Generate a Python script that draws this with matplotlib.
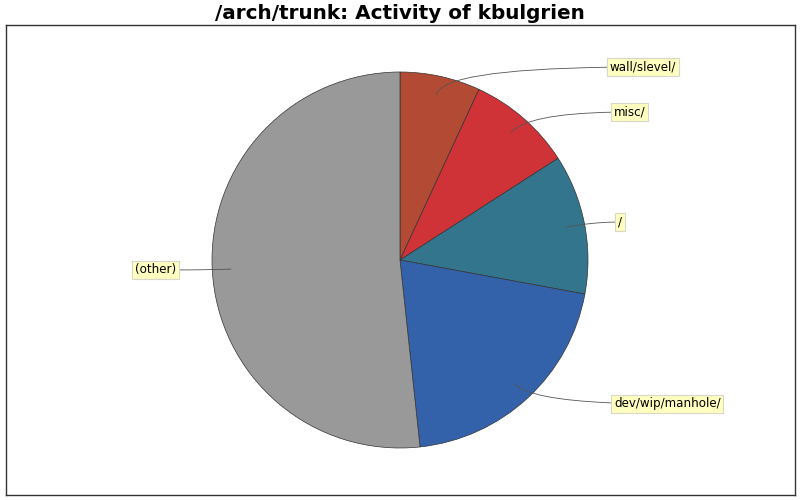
import numpy as np
import matplotlib
matplotlib.use("Agg")
import matplotlib.pyplot as plt

# slice data, clockwise from 12 o'clock
labels = ["wall/slevel/", "misc/", "/", "dev/wip/manhole/", "(other)"]
shares = [6.9, 9.0, 12.0, 20.4, 51.7]
colors = ["#B34A33", "#CF3338", "#33758C", "#3362AB", "#999999"]

# label box positions (pixel coords, y measured from bottom)
label_x = [610, 614, 618, 614, 135]
label_y = [433, 388, 278, 96, 230]

W, H = 800, 500
cx, cy, R = 400, 240, 188

fig = plt.figure(figsize=(8, 5), dpi=100)
ax = fig.add_axes([6 / W, 5 / H, 789 / W, 470 / H])

wedges, _ = ax.pie(shares, colors=colors, startangle=90, counterclock=False,
                   center=(cx, cy), radius=R,
                   wedgeprops=dict(edgecolor="#333333", linewidth=0.5))

ax.set_xlim(6, 795)
ax.set_ylim(5, 475)
ax.set_aspect("auto")
ax.set_frame_on(True)
for s in ax.spines.values():
    s.set_color("#333333")
    s.set_linewidth(1.0)
ax.set_xticks([])
ax.set_yticks([])

for w, lab, lx, ly in zip(wedges, labels, label_x, label_y):
    mid = np.deg2rad((w.theta1 + w.theta2) / 2)
    px = cx + 0.9 * R * np.cos(mid)
    py = cy + 0.9 * R * np.sin(mid)
    ang = np.rad2deg(mid)
    ax.annotate(lab, xy=(px, py), xytext=(lx, ly), ha="left", va="center",
                fontsize=8.6, color="black",
                bbox=dict(boxstyle="square,pad=0.22", fc="#FFFFC0", ec="#D8D8C8", lw=0.8),
                arrowprops=dict(arrowstyle="-", color="#555555", lw=0.6,
                                shrinkA=0, shrinkB=0,
                                connectionstyle=f"angle3,angleA=0,angleB={ang:.1f}"))

fig.text(0.5, 0.973, "/arch/trunk: Activity of kbulgrien", ha="center", va="center",
         fontsize=14.4, fontweight="bold")

fig.savefig("out.png", dpi=100)
